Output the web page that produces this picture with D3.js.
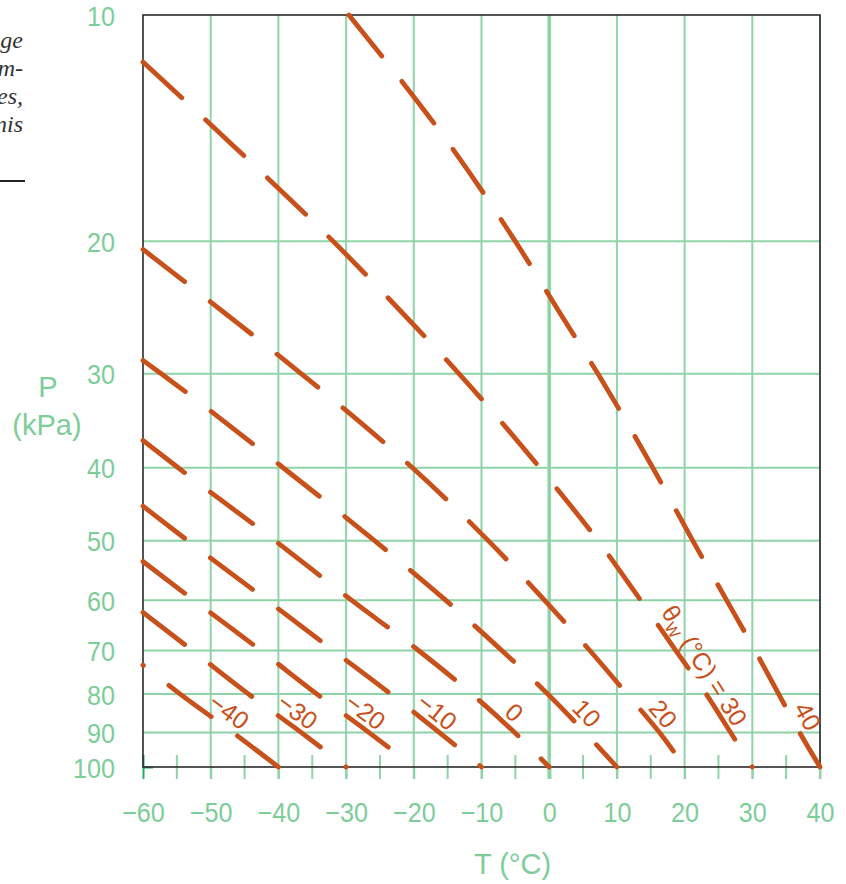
<!DOCTYPE html>
<html>
<head>
<meta charset="utf-8">
<script src="https://cdn.jsdelivr.net/npm/d3@7"></script>
<style>
  body { margin: 0; background: #fff; }
  svg { display: block; }
</style>
</head>
<body>
<div id="chart"></div>
<script>
// axis values
const tempTicks = [-60, -50, -40, -30, -20, -10, 0, 10, 20, 30, 40];
const minorTicks = [-55, -45, -35, -25, -15, -5, 5, 15, 25, 35];
const pressureTicks = [10, 20, 30, 40, 50, 60, 70, 80, 90, 100];

// wet adiabats, each point is [P (kPa), T (°C)]
const thetaW = [-40, -30, -20, -10, 0, 10, 20, 30, 40];
const adiabatM40 = [[73.2, -60], [80, -54.5], [90, -46.7], [100, -40]];
const adiabatM30 = [[62.3, -60], [70, -52.7], [80, -44.4], [90, -36.6], [100, -30]];
const adiabatM20 = [[53.3, -60], [60, -52.5], [70, -42.6], [80, -34.3], [90, -26.6], [100, -20]];
const adiabatM10 = [[45.0, -60], [50, -53.4], [60, -41.7], [70, -31.9], [80, -23.4], [90, -16.2], [100, -10]];
const adiabat0 = [[36.8, -60], [40, -54.8], [50, -40.5], [60, -29.2], [70, -19.3], [80, -11.4], [90, -5.1], [100, 0]];
const adiabat10 = [[28.8, -60], [30, -57.3], [40, -39.3], [50, -25.8], [60, -15.3], [70, -7.0], [80, -0.2], [90, 5.3], [100, 10]];
const adiabat20 = [[20.5, -60], [25, -47.7], [30, -36.6], [40, -20.2], [50, -9.0], [60, -0.7], [70, 6.0], [80, 11.5], [90, 16.3], [100, 20]];
const adiabat30 = [[11.55, -60], [15, -46.4], [20, -31.9], [25, -21.5], [30, -13.3], [40, -1.4], [50, 7.2], [60, 13.5], [70, 18.7], [80, 23.2], [90, 26.8], [100, 30]];
const adiabat40 = [[10, -29.6], [15, -14.4], [20, -5.0], [25, 1.7], [30, 7.2], [40, 15.3], [50, 21.2], [60, 26.2], [70, 30.4], [80, 33.9], [90, 37.0], [100, 40]];

const adiabats = [adiabatM40, adiabatM30, adiabatM20, adiabatM10, adiabat0, adiabat10, adiabat20, adiabat30, adiabat40];

// dash phase where each curve starts (only the -40 one is shifted)
const dashOffsets = [52, 0, 0, 0, 0, 0, 0, 0, 0];

// cut-off caption text at the left edge of the page
const captionBits = ["ge", "m-", "es,", "nis"];

const gridColor = "#8fd4a8";
const textColor = "#7dcd99";
const tickDark = "#22ad5f";
const curveColor = "#c8501a";
const plain = "'Liberation Sans', Arial, Helvetica, sans-serif";
const squeeze = 0.9; // tick numbers are set in a slightly condensed face

const margin = { top: 15, right: 26, bottom: 117, left: 143 };
const width = 846 - margin.left - margin.right;
const height = 884 - margin.top - margin.bottom;

const root = d3.select("#chart")
    .append("svg")
    .attr("width", 846)
    .attr("height", 884);

// caption fragments
root.selectAll(".cap")
    .data(captionBits)
    .enter().append("text")
    .attr("class", "cap")
    .attr("x", 23)
    .attr("y", (d, i) => 48 + i * 28)
    .attr("text-anchor", "end")
    .attr("font-family", "'Liberation Serif', 'DejaVu Serif', serif")
    .attr("font-style", "italic")
    .attr("font-size", "24px")
    .attr("fill", "#333")
    .text(d => d);

root.append("line")
    .attr("x1", 0).attr("x2", 25)
    .attr("y1", 181).attr("y2", 181)
    .attr("stroke", "#222")
    .attr("stroke-width", 2);

const svg = root.append("g")
    .attr("transform", "translate(" + margin.left + "," + margin.top + ")");

const x = d3.scaleLinear().domain([-60, 40]).range([0, width]);
const y = d3.scaleLog().domain([10, 100]).range([0, height]);

// vertical grid, running a little below the axis
svg.selectAll(".vgrid")
    .data(tempTicks.filter(d => d > -60))
    .enter().append("line")
    .attr("x1", d => x(d)).attr("x2", d => x(d))
    .attr("y1", 0).attr("y2", height + 12)
    .attr("stroke", gridColor)
    .attr("stroke-width", d => d === 0 ? 3.5 : 2);

// horizontal grid
svg.selectAll(".hgrid")
    .data(pressureTicks.filter(d => d > 10 && d < 100))
    .enter().append("line")
    .attr("x1", 0).attr("x2", width)
    .attr("y1", d => y(d)).attr("y2", d => y(d))
    .attr("stroke", gridColor)
    .attr("stroke-width", 2);

// minor ticks across the bottom axis
svg.selectAll(".minor")
    .data(minorTicks)
    .enter().append("line")
    .attr("x1", d => x(d)).attr("x2", d => x(d))
    .attr("y1", height - 12).attr("y2", height + 12)
    .attr("stroke", gridColor)
    .attr("stroke-width", 2);

// axes (labels + outside ticks)
const xAxis = svg.append("g")
    .attr("transform", "translate(0," + height + ")")
    .call(d3.axisBottom(x).tickValues(tempTicks).tickSize(12).tickPadding(23));

const yAxis = svg.append("g")
    .call(d3.axisLeft(y).tickValues(pressureTicks).tickFormat(d3.format("d")).tickSize(13).tickPadding(15));

[xAxis, yAxis].forEach(ax => {
    ax.attr("font-family", null).attr("font-size", null);
    ax.select(".domain").remove();
    ax.selectAll("text")
        .attr("fill", textColor)
        .attr("font-family", plain)
        .attr("font-size", "28px");
});
xAxis.selectAll(".tick text")
    .attr("transform", "scale(" + squeeze + ",1)");
yAxis.selectAll(".tick text")
    .attr("x", 0)
    .attr("dy", "0.36em")
    .attr("transform", "translate(-28,0) scale(" + squeeze + ",1)");

xAxis.selectAll(".tick line")
    .attr("stroke", d => d === -60 ? tickDark : gridColor)
    .attr("stroke-width", d => d === 0 ? 3.5 : 2)
    .attr("y1", d => d === -60 ? -12 : 0);
yAxis.selectAll(".tick line")
    .attr("stroke", d => (d === 10 || d === 100) ? tickDark : gridColor)
    .attr("stroke-width", 2)
    .attr("x2", d => d === 100 ? 10 : 0);

// frame
svg.append("rect")
    .attr("width", width)
    .attr("height", height)
    .attr("fill", "none")
    .attr("stroke", "#2b2b2b")
    .attr("stroke-width", 1.6);

// axis titles
svg.append("text")
    .attr("x", 48 - margin.left).attr("y", 397 - margin.top)
    .attr("text-anchor", "middle")
    .attr("font-family", plain).attr("font-size", "29px")
    .attr("fill", textColor)
    .text("P");
svg.append("text")
    .attr("x", 47 - margin.left).attr("y", 435 - margin.top)
    .attr("text-anchor", "middle")
    .attr("font-family", plain).attr("font-size", "29px")
    .attr("fill", textColor)
    .text("(kPa)");
svg.append("text")
    .attr("x", x(-10) + 31).attr("y", height + 107)
    .attr("text-anchor", "middle")
    .attr("font-family", plain).attr("font-size", "29px")
    .attr("fill", textColor)
    .text("T (°C)");

// adiabats
const line = d3.line()
    .x(d => x(d[1]))
    .y(d => y(d[0]))
    .curve(d3.curveMonotoneY);

svg.selectAll(".adiabat")
    .data(adiabats)
    .enter().append("path")
    .attr("class", "adiabat")
    .attr("d", line)
    .attr("fill", "none")
    .attr("stroke", curveColor)
    .attr("stroke-width", 4.8)
    .attr("stroke-linecap", "round")
    .attr("stroke-dasharray", "52.5 32.5")
    .attr("stroke-dashoffset", (d, i) => dashOffsets[i]);

// temperature on a curve at pressure p (interpolated in log p)
function tempAt(curve, p) {
    for (let i = 0; i < curve.length - 1; i++) {
        const a = curve[i], b = curve[i + 1];
        if (p >= a[0] && p <= b[0]) {
            const f = (Math.log(p) - Math.log(a[0])) / (Math.log(b[0]) - Math.log(a[0]));
            return a[1] + f * (b[1] - a[1]);
        }
    }
    return curve[curve.length - 1][1];
}

// curve labels, sitting just above the line near 88 kPa
adiabats.forEach((curve, i) => {
    const isLong = thetaW[i] === 30;
    const p0 = isLong ? 89.5 : 87.5;
    const px = x(tempAt(curve, p0)), py = y(p0);
    const ax = x(tempAt(curve, p0 - 3)), ay = y(p0 - 3);
    const bx = x(tempAt(curve, p0 + 3)), by = y(p0 + 3);
    const angle = Math.atan2(by - ay, bx - ax) * 180 / Math.PI;
    const label = svg.append("text")
        .attr("transform", "translate(" + px + "," + py + ") rotate(" + angle + ")")
        .attr("dy", isLong ? -5 : -6)
        .attr("text-anchor", isLong ? "end" : "middle")
        .attr("font-family", plain)
        .attr("font-size", "25px")
        .attr("fill", curveColor);
    if (isLong) {
        label.append("tspan").text("θ");
        label.append("tspan").attr("font-size", "16px").attr("dy", 5).text("W");
        label.append("tspan").attr("dy", -5).text(" (°C) = 30");
    } else {
        label.text(d3.format("d")(thetaW[i]));
    }
});
</script>
</body>
</html>
